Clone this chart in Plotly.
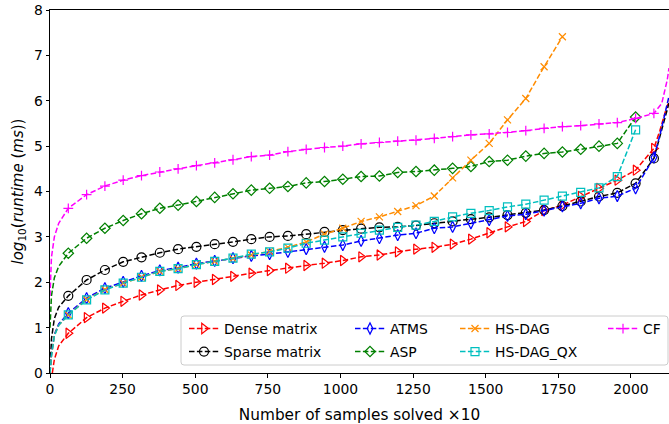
import plotly.graph_objects as go

# ---------------- data ----------------
X_MARK = [63, 126, 189, 252, 315, 378, 441, 504, 567, 630, 693, 756, 819, 882,
          945, 1008, 1071, 1134, 1197, 1260, 1323, 1386, 1449, 1512, 1575, 1638,
          1701, 1764, 1827, 1890, 1953, 2016, 2079]

DENSE = [0.875, 1.22, 1.43, 1.58, 1.72, 1.83, 1.93, 2.00, 2.06, 2.13,
         2.20, 2.26, 2.31, 2.37, 2.42, 2.48, 2.56, 2.60, 2.67, 2.73, 2.77, 2.84,
         2.95, 3.09, 3.22, 3.34, 3.58, 3.70, 3.89, 4.07, 4.25, 4.47, 4.95]
SPARSE = [1.70, 2.05, 2.27, 2.45, 2.55, 2.65, 2.73, 2.78, 2.84, 2.89,
          2.95, 3.00, 3.02, 3.06, 3.11, 3.15, 3.18, 3.21, 3.22, 3.25, 3.30, 3.34,
          3.39, 3.43, 3.48, 3.53, 3.59, 3.68, 3.78, 3.89, 3.97, 4.18, 4.73]
ATMS = [1.32, 1.65, 1.87, 2.01, 2.14, 2.26, 2.32, 2.41, 2.47, 2.53,
        2.58, 2.62, 2.67, 2.73, 2.78, 2.82, 2.91, 2.97, 3.04, 3.08, 3.19, 3.22,
        3.30, 3.37, 3.46, 3.50, 3.58, 3.67, 3.74, 3.85, 3.90, 4.07, 4.75]
ASP = [2.64, 2.97, 3.19, 3.36, 3.51, 3.63, 3.70, 3.78, 3.87, 3.95,
       4.03, 4.07, 4.11, 4.19, 4.22, 4.27, 4.33, 4.34, 4.42, 4.44, 4.47, 4.51,
       4.55, 4.66, 4.69, 4.78, 4.84, 4.87, 4.93, 5.00, 5.06, 5.64]
HSDAG = [1.28, 1.62, 1.84, 1.98, 2.11, 2.24, 2.30, 2.39, 2.46, 2.52,
         2.60, 2.68, 2.77, 2.89, 3.06, 3.19, 3.34, 3.44, 3.56, 3.69, 3.90, 4.30,
         4.69, 5.06, 5.58, 6.05, 6.75, 7.41]
HSDAG_QX = [1.28, 1.61, 1.83, 1.98, 2.11, 2.24, 2.30, 2.39, 2.46, 2.53,
            2.62, 2.67, 2.75, 2.86, 2.93, 3.00, 3.08, 3.15, 3.21, 3.26, 3.34, 3.44,
            3.52, 3.58, 3.66, 3.72, 3.81, 3.90, 3.98, 4.08, 4.33, 5.36]
CF = [3.63, 3.93, 4.12, 4.25, 4.35, 4.43, 4.50, 4.57, 4.63, 4.70,
      4.77, 4.80, 4.88, 4.93, 4.97, 5.00, 5.05, 5.08, 5.11, 5.13, 5.17, 5.21,
      5.25, 5.27, 5.30, 5.34, 5.39, 5.43, 5.45, 5.49, 5.52, 5.61, 5.72]

# unmarked line points before the first marker and after the last one
DENSE_HEAD_X, DENSE_HEAD_Y = [8, 15, 30], [0.0, 0.3, 0.6]
DENSE_TAIL_X, DENSE_TAIL_Y = [2100, 2118, 2131], [5.35, 5.75, 6.0]
SPARSE_HEAD_X, SPARSE_HEAD_Y = [0, 5, 15, 30], [0.0, 0.75, 1.2, 1.45]
SPARSE_TAIL_X, SPARSE_TAIL_Y = [2100, 2118, 2131], [5.2, 5.65, 5.95]
ATMS_HEAD_X, ATMS_HEAD_Y = [0, 5, 15, 30], [0.0, 0.4, 0.85, 1.08]
ATMS_TAIL_X, ATMS_TAIL_Y = [2100, 2118, 2131], [5.25, 5.75, 6.1]
ASP_HEAD_X, ASP_HEAD_Y = [0, 5, 15, 30], [1.0, 1.7, 2.1, 2.35]
HSDAG_HEAD_X, HSDAG_HEAD_Y = [0, 5, 15, 30], [0.0, 0.38, 0.83, 1.05]
HSDAG_QX_HEAD_X, HSDAG_QX_HEAD_Y = [0, 5, 15, 30], [0.0, 0.37, 0.82, 1.05]
CF_HEAD_X, CF_HEAD_Y = [0, 5, 15, 30], [1.7, 2.55, 3.0, 3.3]
CF_TAIL_X, CF_TAIL_Y = [2106, 2125, 2131], [5.94, 6.46, 6.72]

X_TICKS = [0, 250, 500, 750, 1000, 1250, 1500, 1750, 2000]
Y_TICKS = [0, 1, 2, 3, 4, 5, 6, 7, 8]

# ---------------- layout geometry ----------------
W, H = 669, 424
L, R, T, B = 50, 0, 10, 51
PW, PH = W - L - R, H - T - B
FONT = "DejaVu Sans"


def px_x(p):
    return (p - L) / PW


def px_y(p):
    return (H - B - p) / PH


# name, values, head/tail points, colour, symbol, size, legend column, legend row
series = [
    ("Dense matrix", DENSE, DENSE_HEAD_X, DENSE_HEAD_Y, DENSE_TAIL_X, DENSE_TAIL_Y,
     "#ff0000", "triangle-right-open", 9, 0, 0),
    ("Sparse matrix", SPARSE, SPARSE_HEAD_X, SPARSE_HEAD_Y, SPARSE_TAIL_X, SPARSE_TAIL_Y,
     "#000000", "circle-open", 9, 0, 1),
    ("ATMS", ATMS, ATMS_HEAD_X, ATMS_HEAD_Y, ATMS_TAIL_X, ATMS_TAIL_Y,
     "#0000ff", "diamond-tall-open", 8, 1, 0),
    ("ASP", ASP, ASP_HEAD_X, ASP_HEAD_Y, [], [],
     "#008000", "diamond-open", 8, 1, 1),
    ("HS-DAG", HSDAG, HSDAG_HEAD_X, HSDAG_HEAD_Y, [], [],
     "#ff8c00", "x-thin-open", 7, 2, 0),
    ("HS-DAG_QX", HSDAG_QX, HSDAG_QX_HEAD_X, HSDAG_QX_HEAD_Y, [], [],
     "#00bfbf", "square-open", 8, 2, 1),
    ("CF", CF, CF_HEAD_X, CF_HEAD_Y, CF_TAIL_X, CF_TAIL_Y,
     "#ff00ff", "cross-thin-open", 7, 3, 0),
]

DASH = "5.5px,2.4px"
TEXT_STARTS = [224, 390, 495, 643]
ROW_CENTERS = [328, 351]
LEG_FONT = 13.9

fig = go.Figure()
legends = {}
for idx, (name, vals, hx, hy, tx, ty, col, sym, msz, lc, lr) in enumerate(series):
    mx = X_MARK[:len(vals)]
    fig.add_trace(go.Scatter(
        x=hx + mx + tx, y=hy + vals + ty, mode="lines",
        line=dict(color=col, width=1.5, dash=DASH),
        showlegend=False, hoverinfo="skip"))
    fig.add_trace(go.Scatter(
        x=mx, y=vals, mode="markers",
        marker=dict(symbol=sym, size=msz, color=col, line=dict(color=col, width=1.2)),
        showlegend=False))
    key = "legend" if idx == 0 else f"legend{idx + 1}"
    fig.add_trace(go.Scatter(
        x=[None], y=[None], mode="lines+markers", name=name, legend=key,
        line=dict(color=col, width=1.5, dash=DASH),
        marker=dict(symbol=sym, size=msz, color=col, line=dict(color=col, width=1.2))))
    legends[key] = dict(
        orientation="v", bgcolor="rgba(0,0,0,0)", borderwidth=0,
        font=dict(family=FONT, size=LEG_FONT, color="#000000"),
        xanchor="left", yanchor="top", itemwidth=30,
        x=px_x(TEXT_STARTS[lc] - 40), y=px_y(ROW_CENTERS[lr] - 15))

# legend frame (rounded rectangle)
bx0, bx1, by0, by1, rr = 181, 668, 316, 365, 3
xa, xb = px_x(bx0), px_x(bx1)
ya, yb = px_y(by1), px_y(by0)
rx, ry = rr / PW, rr / PH
path = (f"M{xa + rx},{ya} L{xb - rx},{ya} Q{xb},{ya} {xb},{ya + ry} "
        f"L{xb},{yb - ry} Q{xb},{yb} {xb - rx},{yb} L{xa + rx},{yb} "
        f"Q{xa},{yb} {xa},{yb - ry} L{xa},{ya + ry} Q{xa},{ya} {xa + rx},{ya} Z")
fig.add_shape(type="path", path=path, xref="paper", yref="paper",
              line=dict(color="#cccccc", width=1), fillcolor="rgba(255,255,255,0.8)",
              layer="above")

fig.update_layout(
    width=W, height=H,
    margin=dict(l=L, r=R, t=T, b=B, pad=0),
    paper_bgcolor="white", plot_bgcolor="white",
    font=dict(family=FONT, size=13.9, color="#000000"),
    xaxis=dict(range=[0, 2131], tickvals=X_TICKS, ticks="outside", ticklen=3.5,
               tickwidth=0.8, tickcolor="#000", showline=True, linecolor="#000",
               linewidth=1, mirror=True, showgrid=False, zeroline=False,
               tickfont=dict(family=FONT, size=13.9),
               title=dict(text="Number of samples solved ×10",
                          font=dict(family=FONT, size=15.3), standoff=14)),
    yaxis=dict(range=[0, 8], tickvals=Y_TICKS, ticks="outside", ticklen=3.5,
               tickwidth=0.8, tickcolor="#000", showline=True, linecolor="#000",
               linewidth=1, mirror=False, showgrid=False, zeroline=False,
               tickfont=dict(family=FONT, size=13.9),
               title=dict(text="<i>log</i><sub>10</sub>(<i>runtime</i> (<i>ms</i>))",
                          font=dict(family=FONT, size=15), standoff=6)),
    **legends,
)

fig.write_html("out.html", config={"displayModeBar": False},
               post_script="document.body.style.margin='0px';")
